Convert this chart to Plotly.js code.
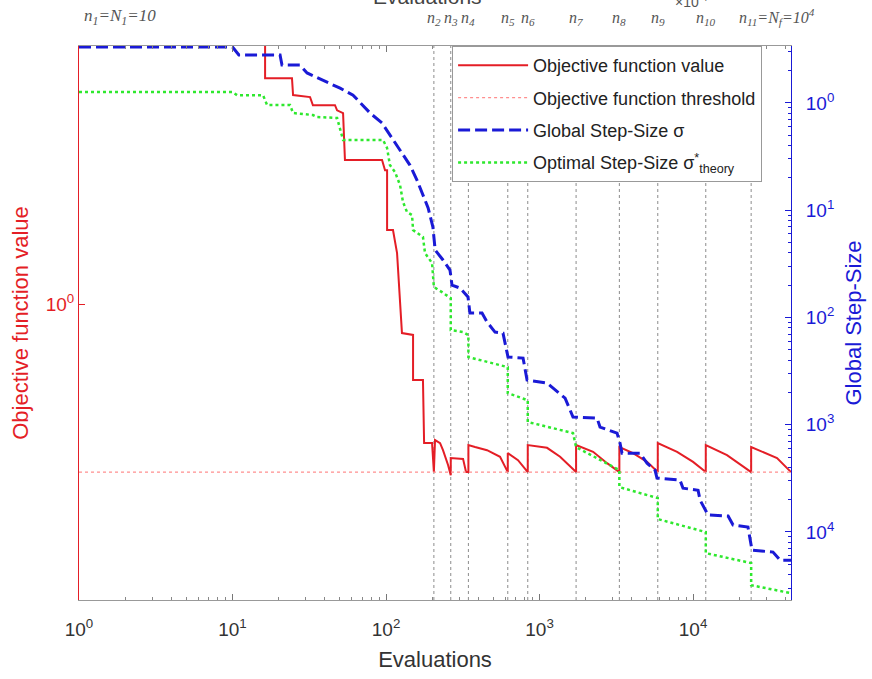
<!DOCTYPE html>
<html>
<head>
<meta charset="utf-8">
<script src="https://cdn.plot.ly/plotly-3.0.1.min.js"></script>
<style>html,body{margin:0;padding:0;background:#fff;}#chart{width:872px;height:679px;}</style>
</head>
<body>
<div id="chart"></div>
<script>
// ---- data ----
const redX = [1, 16.3, 16.3, 24.4, 24.8, 32, 33.4, 46.5, 48, 52.5, 54, 94.2, 98.5, 101.6, 101.6, 111, 118, 127, 150, 150, 174, 177, 199.5, 205, 208.5, 225, 235, 253.5, 264, 264, 317.5, 332, 344, 344, 380, 455, 553, 621, 621, 724, 838, 838, 1119, 1361, 1730, 1730, 2233, 2754, 3311, 3311, 4064, 5013, 5890, 5890, 7870, 10000, 12100, 12100, 16640, 23900, 23900, 35240, 43470];
const redY = [5.0, 5.0, 3.67, 3.67, 3.33, 3.29, 3.14, 3.14, 3.05, 3.00, 2.29, 2.29, 2.16, 2.16, 1.53, 1.53, 1.34, 0.846, 0.837, 0.646, 0.646, 0.449, 0.449, 0.38, 0.457, 0.449, 0.431, 0.396, 0.373, 0.412, 0.410, 0.38, 0.38, 0.444, 0.439, 0.431, 0.415, 0.38, 0.424, 0.407, 0.38, 0.444, 0.437, 0.415, 0.38, 0.444, 0.427, 0.400, 0.38, 0.439, 0.424, 0.403, 0.38, 0.449, 0.427, 0.403, 0.38, 0.444, 0.419, 0.38, 0.439, 0.412, 0.38];

const thresholdX = [1, 43470];
const thresholdY = [0.38, 0.38];

const blueX = [1, 10, 11, 20.4, 21, 27.5, 30.6, 41.3, 50.2, 61, 70.8, 78.7, 94.2, 103, 114.5, 129, 143, 159, 174, 188, 202, 209, 235, 261, 269, 303, 342, 352, 422, 455, 513, 578, 623, 781, 829, 1119, 1467, 1652, 2370, 2478, 3198, 3343, 3444, 4515, 5013, 5653, 5823, 8222, 8602, 10780, 11110, 12530, 16910, 18230, 22790, 24210, 33170, 36880, 43470];
const blueY = [3.32, 3.32, 2.79, 2.79, 2.25, 2.25, 1.90, 1.56, 1.37, 1.18, 0.955, 0.804, 0.649, 0.535, 0.431, 0.327, 0.263, 0.191, 0.138, 0.105, 0.0695, 0.0425, 0.0343, 0.0276, 0.0200, 0.0188, 0.0155, 0.01097, 0.01097, 0.00905, 0.00730, 0.00714, 0.00427, 0.00418, 0.00261, 0.00244, 0.00177, 0.00118, 0.00115, 0.00095, 0.000835, 0.000673, 0.000543, 0.000543, 0.000438, 0.000377, 0.000318, 0.000304, 0.000256, 0.000245, 0.000198, 0.000144, 0.000141, 0.000116, 0.000111, 0.0000677, 0.0000649, 0.0000546, 0.0000546];

const greenX = [1, 10, 10.7, 15.8, 16.8, 23.7, 24.8, 33.4, 35.5, 48, 52.5, 95.6, 101.6, 106, 114.5, 123.4, 129, 137, 147.7, 150, 174, 179.5, 199.5, 205, 231.6, 264, 264, 317.5, 344, 344, 621, 621, 838, 838, 1652, 1730, 3311, 3311, 5890, 5890, 12100, 12100, 23900, 23900, 43470];
const greenY = [1.262, 1.262, 1.18, 1.18, 0.955, 0.955, 0.804, 0.770, 0.738, 0.723, 0.451, 0.451, 0.379, 0.263, 0.226, 0.171, 0.119, 0.0959, 0.0899, 0.0652, 0.0561, 0.0398, 0.0321, 0.0192, 0.0172, 0.0151, 0.00762, 0.00730, 0.00684, 0.00427, 0.00344, 0.00197, 0.00169, 0.00106, 0.000835, 0.000618, 0.000377, 0.000262, 0.000207, 0.000132, 0.0000998, 0.0000635, 0.0000513, 0.0000319, 0.0000269];

const nX = [205, 264, 344, 621, 838, 1730, 3311, 5890, 12100, 23900];
const nLabels = ['n<sub>2</sub>', 'n<sub>3</sub>', 'n<sub>4</sub>', 'n<sub>5</sub>', 'n<sub>6</sub>', 'n<sub>7</sub>', 'n<sub>8</sub>', 'n<sub>9</sub>', 'n<sub>10</sub>', 'n<sub>11</sub>=N<sub>f</sub>=10<sup>4</sup>'];
const firstLabel = 'n<sub>1</sub>=N<sub>1</sub>=10';

const xTickVals = [1, 10, 100, 1000, 10000];
const xTickText = ['10<sup>0</sup>', '10<sup>1</sup>', '10<sup>2</sup>', '10<sup>3</sup>', '10<sup>4</sup>'];
const yTickVals = [1];
const yTickText = ['10<sup>0</sup>'];
const y2TickVals = [1, 0.1, 0.01, 0.001, 0.0001];
const y2TickText = ['10<sup>0</sup>', '10<sup>1</sup>', '10<sup>2</sup>', '10<sup>3</sup>', '10<sup>4</sup>'];

// ---- styling ----
const RED = '#e41e26', BLUE = '#1a1ad6', GREEN = '#2ee82e';
const FONT = 'Liberation Sans, Arial, sans-serif';

function minorLog(lo, hi) {
  const out = [];
  for (let k = lo; k <= hi; k++) for (let m = 2; m <= 9; m++) out.push(m * Math.pow(10, k));
  return out;
}

const traces = [
  {x: redX, y: redY, yaxis: 'y', mode: 'lines', name: 'Objective function value', legendgroup: 'a',
   line: {color: RED, width: 2}},
  {x: thresholdX, y: thresholdY, yaxis: 'y', mode: 'lines', name: 'Objective function threshold', legendgroup: 'b',
   line: {color: '#ff8f8f', width: 1.3, dash: 'dot'}},
  {x: blueX, y: blueY, yaxis: 'y2', mode: 'lines', name: 'Global Step-Size σ', legendgroup: 'c',
   line: {color: BLUE, width: 3, dash: '12px,5px'}},
  {x: greenX, y: greenY, yaxis: 'y2', mode: 'lines', name: 'Optimal Step-Size σ<sup>*</sup><sub>theory</sub>', legendgroup: 'd',
   line: {color: GREEN, width: 2.5, dash: 'dot'}}
];

const shapes = nX.map(v => ({type: 'line', xref: 'x', yref: 'paper', x0: v, x1: v, y0: 0, y1: 1,
  layer: 'below', line: {color: '#8c8c8c', width: 1, dash: 'dot'}}));

const annFont = {family: 'Liberation Serif, Times New Roman, serif', size: 16, color: '#555'};
const annotations = nX.map((v, i) => ({xref: 'x', yref: 'paper', x: Math.log10(v), y: 1.029,
  text: '<i>' + nLabels[i] + '</i>', showarrow: false, font: annFont,
  xanchor: i === nX.length - 1 ? 'left' : 'center', xshift: i === nX.length - 1 ? -14 : 0, yanchor: 'bottom'}));
annotations.push({xref: 'paper', yref: 'paper', x: 0.004, y: 1.029, text: '<i>' + firstLabel + '</i>',
  showarrow: false, font: {family: annFont.family, size: 17, color: annFont.color}, xanchor: 'left', yanchor: 'bottom'});
annotations.push({xref: 'paper', yref: 'paper', x: 0.489, y: 1.09, text: 'Evaluations', showarrow: false,
  font: {family: FONT, size: 21, color: '#444'}, xanchor: 'center', yanchor: 'middle'});
annotations.push({xref: 'paper', yref: 'paper', x: 0.86, y: 1.082, text: '×10<sup>-4</sup>', showarrow: false,
  font: {family: FONT, size: 14, color: '#555'}, xanchor: 'center', yanchor: 'middle'});

const layout = {
  width: 872, height: 679,
  margin: {l: 79, r: 81, t: 46, b: 79},
  paper_bgcolor: '#fff', plot_bgcolor: '#fff',
  font: {family: FONT, size: 15, color: '#333'},
  showlegend: true,
  legend: {x: 0.524, y: 1, xanchor: 'left', yanchor: 'top', bgcolor: '#fff', bordercolor: '#999', borderwidth: 1,
    font: {family: FONT, size: 18, color: '#222'}, tracegroupgap: 6, itemwidth: 70},
  xaxis: {type: 'log', range: [0, 4.638], tickmode: 'array', tickvals: xTickVals, ticktext: xTickText,
    ticks: 'inside', ticklen: 6, tickcolor: '#777', showline: true, linecolor: '#999', linewidth: 1, mirror: 'ticks',
    showgrid: false, zeroline: false, tickfont: {size: 19, color: '#333'}, ticklabelstandoff: 12,
    minor: {tickmode: 'array', tickvals: minorLog(0, 4), ticks: 'inside', ticklen: 3, tickcolor: '#888', showgrid: false},
    title: {text: 'Evaluations', font: {size: 22, color: '#333'}, standoff: 12}},
  yaxis: {type: 'log', range: [-0.74, 0.645], tickmode: 'array', tickvals: yTickVals, ticktext: yTickText,
    ticks: 'inside', ticklen: 6, tickcolor: RED, showline: true, linecolor: RED, linewidth: 1,
    showgrid: false, zeroline: false, tickfont: {size: 19, color: RED},
    title: {text: 'Objective function value', font: {size: 22, color: RED}, standoff: 10}},
  yaxis2: {type: 'log', overlaying: 'y', side: 'right', range: [-4.634, 0.53], tickmode: 'array',
    tickvals: y2TickVals, ticktext: y2TickText, ticks: 'inside', ticklen: 6, tickcolor: BLUE,
    showline: true, linecolor: BLUE, linewidth: 1, showgrid: false, zeroline: false,
    tickfont: {size: 19, color: BLUE}, ticklabelstandoff: 10,
    minor: {tickmode: 'array', tickvals: minorLog(-5, 0), ticks: 'inside', ticklen: 3, tickcolor: BLUE, showgrid: false},
    title: {text: 'Global Step-Size', font: {size: 22, color: BLUE}, standoff: 12}},
  shapes: shapes,
  annotations: annotations
};

Plotly.newPlot('chart', traces, layout, {displayModeBar: false, staticPlot: true});
</script>
</body>
</html>
